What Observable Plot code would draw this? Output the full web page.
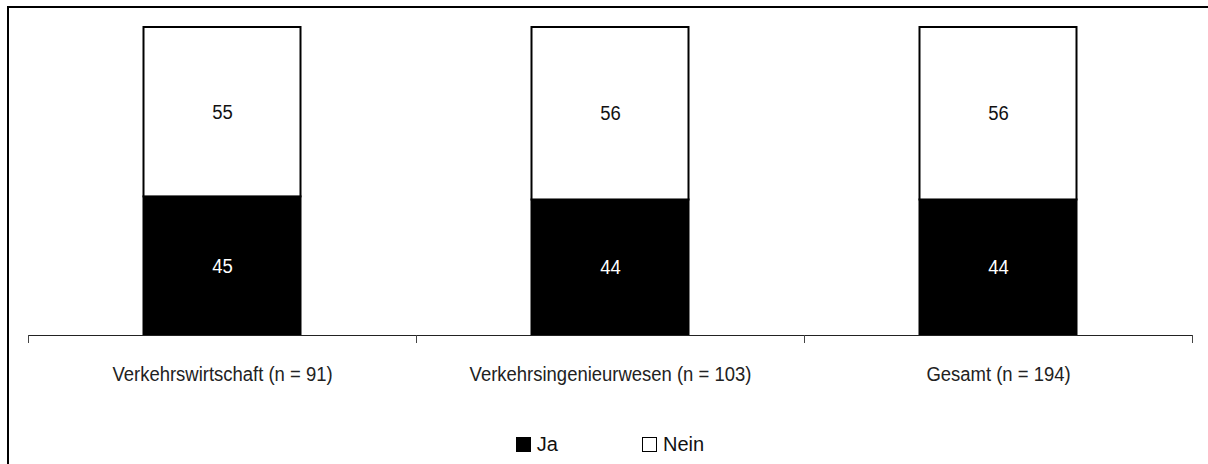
<!DOCTYPE html>
<html>
<head>
<meta charset="utf-8">
<script src="https://cdn.jsdelivr.net/npm/d3@7"></script>
<script src="https://cdn.jsdelivr.net/npm/@observablehq/plot@0.6"></script>
<style>
  html, body { margin: 0; padding: 0; background: #fff; overflow: hidden; }
  body { width: 1208px; height: 464px; position: relative;
         font-family: "Liberation Sans", Arial, sans-serif; }
  #frame { position: absolute; left: 7px; top: 6px; width: 1400px; height: 700px;
           border-top: 2px solid #000; border-left: 2px solid #000; pointer-events: none; }
  #chart { position: absolute; left: 0; top: 0; }
  #legend { position: absolute; left: 28px; width: 1164px; top: 428px; height: 32px;
            display: flex; justify-content: center; align-items: center; gap: 84px;
            font-size: 20px; color: #111; }
  .item { display: flex; align-items: center; gap: 6px; }
  .sw { width: 13px; height: 13px; border: 1.5px solid #000; display: inline-block; }
</style>
</head>
<body>
<div id="chart"></div>
<div id="legend"></div>
<div id="frame"></div>
<script>
const categories = ["Verkehrswirtschaft (n = 91)", "Verkehrsingenieurwesen (n = 103)", "Gesamt (n = 194)"];
const series = ["Ja", "Nein"];
const seriesColors = ["#000000", "#ffffff"];
const labelColors = ["#ffffff", "#111111"];
const jaValues = [45, 44, 44];
const neinValues = [55, 56, 56];

const seriesValues = {Ja: jaValues, Nein: neinValues};
const data = categories.flatMap((c, i) => series.map(s => ({cat: c, series: s, value: seriesValues[s][i]})));

const W = 1208, H = 420, mL = 28, mR = 16, mT = 27, mB = 85;
const step = (W - mL - mR) / categories.length;
const barW = 157;
const inset = (step - barW) / 2;
const font = '"Liberation Sans", Arial, sans-serif';
const narrow = 0.88;

const chart = Plot.plot({
  width: W, height: H,
  marginLeft: mL, marginRight: mR, marginTop: mT, marginBottom: mB,
  style: {fontFamily: font, background: "transparent", color: "#111"},
  x: {domain: categories, padding: 0},
  y: {domain: [0, 100], axis: null},
  color: {domain: series, range: seriesColors},
  marks: [
    Plot.barY(data, Plot.stackY({
      x: "cat", y: "value", fill: "series", stroke: "#000", strokeWidth: 2,
      insetLeft: inset, insetRight: inset
    })),
    Plot.ruleY([0], {stroke: "#222", strokeWidth: 1.2}),
    Plot.axisX({ticks: categories, dx: -step / 2, tickSize: 8, tickFormat: () => "", label: null, stroke: "#444"}),
    Plot.axisX({ticks: categories.slice(-1), dx: step / 2, tickSize: 8, tickFormat: () => "", label: null, stroke: "#444"}),
    Plot.axisX({tickSize: 0, tickPadding: 31, fontSize: 21, label: null, fill: "#222"}),
    Plot.text(data, Plot.stackY({
      x: "cat", y: "value", text: "value", fontSize: 21,
      fill: {value: d => labelColors[series.indexOf(d.series)], scale: null}
    }))
  ]
});
document.getElementById("chart").appendChild(chart);

// narrow (condensed) look of the original typeface
chart.querySelectorAll("text").forEach(t => {
  const x = +t.getAttribute("x") || 0, y = +t.getAttribute("y") || 0;
  const tr = t.getAttribute("transform") || "";
  t.setAttribute("transform", `${tr} translate(${x},${y}) scale(${narrow},1) translate(${-x},${-y})`);
});

const legend = document.getElementById("legend");
series.forEach((s, i) => {
  const item = document.createElement("span");
  item.className = "item";
  const sw = document.createElement("span");
  sw.className = "sw";
  sw.style.background = seriesColors[i];
  const t = document.createElement("span");
  t.textContent = s;
  item.appendChild(sw);
  item.appendChild(t);
  legend.appendChild(item);
});
</script>
</body>
</html>
